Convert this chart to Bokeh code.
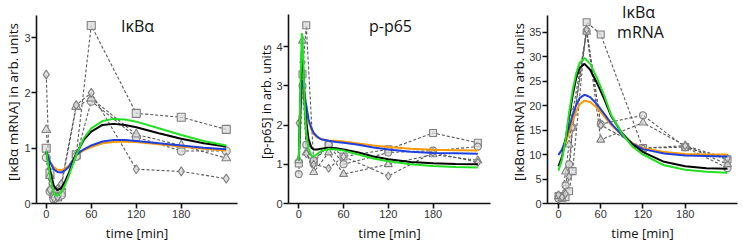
from bokeh.plotting import figure
from bokeh.layouts import row
from bokeh.models import FixedTicker, Label
from bokeh.embed import file_html
from bokeh.resources import INLINE

FONT = "Open Sans"
TICK_FONT = "Liberation Sans"

# ---------------- Panel A: IkBa protein ----------------
a_time = [0, 5, 10, 15, 20, 40, 60, 120, 180, 240]
a_square = [1.00, 0.55, 0.20, 0.12, 0.20, 0.88, 3.22, 1.63, 1.56, 1.34]
a_circle = [0.83, 0.22, 0.08, 0.15, 0.15, 0.85, 1.85, 1.20, 0.95, 0.95]
a_triangle = [1.33, 0.50, 0.15, 0.25, 0.30, 1.75, 1.90, 1.25, 1.05, 0.82]
a_diamond = [2.33, 0.25, 0.10, 0.12, 0.35, 1.78, 2.00, 0.62, 0.58, 0.45]

a_fit_t = [0, 5, 10, 15, 20, 25, 30, 40, 50, 60, 75, 90, 105, 120, 150, 180, 210, 240]
a_black = [0.93, 0.60, 0.32, 0.24, 0.28, 0.40, 0.55, 0.90, 1.15, 1.30, 1.42, 1.44, 1.42, 1.38, 1.27, 1.17, 1.09, 1.03]
a_green = [0.95, 0.50, 0.17, 0.14, 0.20, 0.33, 0.50, 0.88, 1.18, 1.36, 1.49, 1.53, 1.52, 1.48, 1.36, 1.24, 1.13, 1.05]
a_blue = [0.95, 0.75, 0.62, 0.57, 0.56, 0.60, 0.66, 0.88, 0.98, 1.05, 1.12, 1.15, 1.15, 1.13, 1.09, 1.05, 1.01, 0.98]
a_orange = [0.90, 0.75, 0.66, 0.61, 0.60, 0.63, 0.68, 0.88, 0.96, 1.02, 1.09, 1.11, 1.12, 1.11, 1.07, 1.03, 0.99, 0.96]

# ---------------- Panel B: p-p65 ----------------
b_time = [0, 5, 10, 20, 40, 60, 120, 180, 240]
b_square = [1.02, 3.30, 4.55, 1.05, 1.50, 1.20, 1.38, 1.80, 1.55]
b_circle = [0.75, 3.00, 1.50, 1.10, 1.50, 1.00, 1.30, 1.35, 1.45]
b_triangle = [1.10, 4.15, 1.30, 0.80, 1.30, 0.75, 1.00, 1.25, 1.10]
b_diamond = [2.05, 3.60, 1.27, 1.00, 0.90, 1.20, 0.70, 1.30, 1.05]

b_fit_t = [0, 2, 4, 5, 6, 8, 10, 13, 17, 20, 25, 30, 40, 50, 60, 80, 100, 120, 150, 180, 210, 240]
b_green = [1.10, 2.80, 4.35, 4.20, 3.60, 2.50, 1.80, 1.40, 1.22, 1.20, 1.27, 1.34, 1.39, 1.38, 1.35, 1.25, 1.15, 1.08, 1.00, 0.96, 0.93, 0.92]
b_black = [1.10, 2.60, 3.90, 3.80, 3.40, 2.60, 2.10, 1.65, 1.42, 1.38, 1.38, 1.40, 1.42, 1.41, 1.38, 1.30, 1.20, 1.13, 1.06, 1.03, 1.01, 1.00]
b_blue = [1.15, 2.30, 3.05, 3.15, 3.05, 2.75, 2.50, 2.15, 1.92, 1.80, 1.70, 1.64, 1.60, 1.57, 1.55, 1.50, 1.43, 1.38, 1.32, 1.29, 1.28, 1.27]
b_orange = [1.15, 2.20, 2.90, 3.00, 2.95, 2.70, 2.45, 2.10, 1.88, 1.77, 1.68, 1.64, 1.61, 1.60, 1.58, 1.53, 1.48, 1.44, 1.40, 1.37, 1.36, 1.35]

# ---------------- Panel C: IkBa mRNA ----------------
c_time = [0, 5, 10, 15, 20, 40, 60, 120, 180, 240]
c_square = [1.5, 1.2, 1.3, 2.5, 6.6, 37.0, 34.5, 11.3, 11.5, 9.0]
c_circle = [1.0, 1.5, 3.7, 8.0, 15.5, 35.2, 16.2, 18.0, 11.5, 7.2]
c_triangle = [1.5, 1.0, 6.5, 12.0, 18.5, 35.0, 13.0, 16.5, 11.8, 8.0]
c_diamond = [1.8, 1.3, 2.0, 5.5, 15.5, 35.5, 16.0, 11.3, 11.8, 9.2]

c_fit_t = [0, 5, 10, 15, 20, 25, 30, 37, 45, 55, 65, 75, 90, 105, 120, 150, 180, 210, 240]
c_green = [6.7, 9.0, 13.0, 18.5, 23.0, 26.5, 28.7, 29.7, 28.5, 25.5, 22.0, 18.0, 14.3, 11.6, 10.0, 7.8, 6.9, 6.5, 6.3]
c_black = [7.6, 9.5, 13.0, 17.5, 22.0, 25.5, 27.7, 28.5, 27.3, 24.5, 21.3, 17.8, 14.4, 12.1, 10.5, 8.5, 7.6, 7.2, 7.1]
c_blue = [9.9, 11.0, 13.0, 15.5, 18.0, 20.0, 21.5, 22.2, 21.7, 20.2, 18.3, 16.3, 14.0, 12.2, 11.1, 10.2, 9.8, 9.7, 9.6]
c_orange = [10.1, 10.8, 12.3, 14.5, 16.8, 18.8, 20.2, 21.0, 20.7, 19.5, 17.8, 16.0, 13.9, 12.3, 11.3, 10.5, 10.1, 10.0, 10.0]

x_ticks = [0, 60, 120, 180]

GREY_LINE = "#5a5a5a"
MK_LINE = "#808080"
MK_FILL = "#d9d9d9"
C_BLACK = "#000000"
C_GREEN = "#22e022"
C_BLUE = "#1f3fe0"
C_ORANGE = "#ff9a00"


def make_panel(width, left, right, xr, yr, ytop, yticks, titles, ylabel, ylab_size,
               ylab_standoff, time, reps, fit_t, fits, msize):
    p = figure(width=width, height=249, x_range=xr, y_range=(yr[0], ytop),
               output_backend="svg", toolbar_location=None,
               min_border_left=left, min_border_right=right,
               min_border_top=0, min_border_bottom=46)
    p.outline_line_color = None
    p.xgrid.visible = False
    p.ygrid.visible = False
    p.background_fill_color = "white"
    p.border_fill_color = "white"
    for ax, ticks in ((p.xaxis[0], x_ticks), (p.yaxis[0], yticks)):
        ax.ticker = FixedTicker(ticks=ticks)
        ax.minor_tick_line_color = None
        ax.major_tick_in = 0
        ax.major_tick_out = 5
        ax.axis_line_width = 1.6
        ax.major_tick_line_width = 1.6
        ax.axis_line_color = "#111111"
        ax.major_tick_line_color = "#111111"
        ax.major_label_text_font = TICK_FONT
        ax.major_label_text_font_size = "11px"
        ax.major_label_text_color = "#333333"
        ax.major_label_standoff = 1
        ax.axis_label_text_font = FONT
        ax.axis_label_text_font_style = "normal"
        ax.axis_label_text_color = "#111111"
    p.yaxis.bounds = yr
    p.xaxis.bounds = xr
    p.xaxis.axis_label = "time [min]"
    p.xaxis.axis_label_text_font_size = "13px"
    p.xaxis.axis_label_standoff = 3
    p.yaxis.axis_label = ylabel
    p.yaxis.axis_label_text_font_size = ylab_size
    p.yaxis.axis_label_standoff = ylab_standoff

    markers = ["square", "circle", "triangle", "diamond"]
    for vals in reps:
        p.line(time, vals, line_color=GREY_LINE, line_dash="3 2", line_width=1.1)
    for vals, mk in zip(reps, markers):
        sz = msize + (1 if mk in ("triangle", "diamond") else 0)
        p.scatter(time, vals, marker=mk, size=sz, line_color=MK_LINE,
                  fill_color=MK_FILL, fill_alpha=0.75, line_width=1.1)

    for vals, col in zip(fits, [C_ORANGE, C_BLUE, C_BLACK, C_GREEN]):
        p.line(fit_t, vals, line_color=col, line_width=2.0)

    for (tx, tx_x, tx_y) in titles:
        p.add_layout(Label(x=tx_x, y=tx_y, x_units="screen", y_units="screen",
                           text=tx, text_align="center", text_baseline="middle",
                           text_font=FONT, text_font_size="16px", text_color="#111111"))
    return p


p1 = make_panel(252, 36, 15, (-13, 255), (0, 3.4), 3.671, [0, 1, 2, 3],
                [("IκBα", 101, 178)], "[IκBα mRNA] in arb. units", "13.5px", -1,
                a_time, [a_square, a_circle, a_triangle, a_diamond],
                a_fit_t, [a_orange, a_blue, a_black, a_green], 8)

p2 = make_panel(254, 36, 16, (-13.8, 257), (0, 4.82), 5.18, [0, 1, 2, 3, 4],
                [("p-p65", 102, 178)], "[p-p65] in arb. units", "12.5px", -2,
                b_time, [b_square, b_circle, b_triangle, b_diamond],
                b_fit_t, [b_orange, b_blue, b_black, b_green], 7)

p3 = make_panel(237, 41, 6, (-15.6, 254.2), (0, 38.4), 41.43, [0, 5, 10, 15, 20, 25, 30, 35],
                [("IκBα", 91, 192), ("mRNA", 93, 172)], "[IκBα mRNA] in arb. units", "13.5px", -2,
                c_time, [c_square, c_circle, c_triangle, c_diamond],
                c_fit_t, [c_orange, c_blue, c_black, c_green], 7)

layout = row(p1, p2, p3)
open("out.html", "w").write(file_html(layout, INLINE))
